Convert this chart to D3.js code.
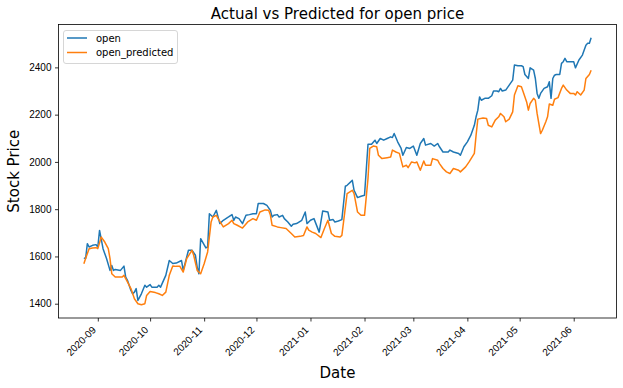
<!DOCTYPE html>
<html>
<head>
<meta charset="utf-8">
<script src="https://cdn.jsdelivr.net/npm/d3@7"></script>
<style>
  body { margin: 0; background: #fff; }
  svg { font-family: "DejaVu Sans", sans-serif; }
</style>
</head>
<body>
<svg id="chart"></svg>
<script>
// Actual vs predicted open price (line chart)
const seriesNames = ["open", "open_predicted"];
const colors = ["#1f77b4", "#ff7f0e"];
const yTicks = [1400, 1600, 1800, 2000, 2200, 2400];

const openDates = [
    "2020-08-24","2020-08-25","2020-08-26","2020-08-27","2020-08-29","2020-08-31",
    "2020-09-01","2020-09-02","2020-09-04","2020-09-06","2020-09-08","2020-09-09","2020-09-10","2020-09-11","2020-09-14","2020-09-16","2020-09-17","2020-09-18","2020-09-20","2020-09-21","2020-09-22","2020-09-23","2020-09-24","2020-09-26","2020-09-28","2020-09-29",
    "2020-10-01","2020-10-02","2020-10-05","2020-10-06","2020-10-07","2020-10-10","2020-10-12","2020-10-14","2020-10-16","2020-10-19","2020-10-20","2020-10-23","2020-10-25","2020-10-27","2020-10-28","2020-10-29","2020-10-30",
    "2020-11-02","2020-11-03","2020-11-04","2020-11-06","2020-11-08","2020-11-10","2020-11-12","2020-11-15","2020-11-17","2020-11-18","2020-11-19","2020-11-21","2020-11-23","2020-11-25","2020-11-27","2020-11-29",
    "2020-12-01","2020-12-02","2020-12-05","2020-12-07","2020-12-09","2020-12-10","2020-12-11","2020-12-13","2020-12-14","2020-12-16","2020-12-17","2020-12-19","2020-12-21","2020-12-22","2020-12-24","2020-12-27","2020-12-29","2020-12-30",
    "2021-01-01","2021-01-03","2021-01-06","2021-01-08","2021-01-11","2021-01-12","2021-01-14","2021-01-15","2021-01-17","2021-01-19","2021-01-21","2021-01-22","2021-01-25","2021-01-26","2021-01-28","2021-01-30",
    "2021-02-01","2021-02-03","2021-02-05","2021-02-07","2021-02-08","2021-02-10","2021-02-12","2021-02-14","2021-02-16","2021-02-17","2021-02-18","2021-02-20","2021-02-22","2021-02-23","2021-02-25","2021-02-27",
    "2021-03-01","2021-03-03","2021-03-05","2021-03-07","2021-03-08","2021-03-11","2021-03-13","2021-03-15","2021-03-16","2021-03-18","2021-03-21","2021-03-22","2021-03-24","2021-03-27","2021-03-28","2021-03-30",
    "2021-04-01","2021-04-03","2021-04-05","2021-04-06","2021-04-07","2021-04-08","2021-04-09","2021-04-11","2021-04-13","2021-04-15","2021-04-16","2021-04-18","2021-04-19","2021-04-20","2021-04-21","2021-04-23","2021-04-25","2021-04-27","2021-04-28","2021-04-30",
    "2021-05-02","2021-05-03","2021-05-04","2021-05-06","2021-05-07","2021-05-09","2021-05-10","2021-05-11","2021-05-12","2021-05-13","2021-05-15","2021-05-17","2021-05-18","2021-05-19","2021-05-20","2021-05-21","2021-05-22","2021-05-24","2021-05-25","2021-05-26","2021-05-27","2021-05-28","2021-05-31",
    "2021-06-01","2021-06-02","2021-06-04","2021-06-06","2021-06-08","2021-06-09","2021-06-10","2021-06-11"
];
const openValues = [
    1594,1591,1654,1640,1647,1650,
    1640,1710,1633,1591,1541,1562,1541,1545,1541,1559,1513,1499,1456,1442,1449,1464,1414,1442,1478,1470,
    1481,1470,1470,1478,1470,1520,1583,1570,1572,1583,1541,1626,1626,1605,1555,1527,1675,
    1636,1640,1781,1767,1795,1739,1753,1767,1777,1753,1767,1760,1739,1774,1777,1781,
    1781,1824,1824,1816,1795,1767,1774,1777,1767,1774,1760,1746,1728,1736,1739,1753,1788,1739,
    1753,1760,1703,1792,1788,1753,1756,1746,1750,1756,1897,1901,1922,1880,1849,1855,
    1859,2075,2075,2092,2078,2099,2092,2099,2106,2103,2120,2085,2057,2028,2061,2057,
    2067,2028,2078,2099,2071,2078,2067,2078,2064,2042,2042,2050,2042,2036,2028,2064,
    2085,2113,2155,2191,2219,2275,2261,2269,2269,2280,2300,2300,2297,2311,2300,2304,2325,2346,2410,2407,
    2407,2403,2370,2353,2398,2388,2353,2290,2269,2290,2311,2318,2339,2269,2353,2367,2370,2370,2417,2424,2438,2424,2424,
    2424,2398,2431,2452,2494,2502,2502,2525
];

const predDates = [
    "2020-08-24","2020-08-25","2020-08-27","2020-08-29","2020-08-31",
    "2020-09-01","2020-09-03","2020-09-05","2020-09-07","2020-09-08","2020-09-09","2020-09-11","2020-09-13","2020-09-15","2020-09-16","2020-09-18","2020-09-20","2020-09-22","2020-09-24","2020-09-26","2020-09-28","2020-09-29",
    "2020-10-01","2020-10-04","2020-10-06","2020-10-08","2020-10-10","2020-10-12","2020-10-14","2020-10-16","2020-10-18","2020-10-20","2020-10-22","2020-10-25","2020-10-26","2020-10-28","2020-10-30",
    "2020-11-01","2020-11-03","2020-11-05","2020-11-06","2020-11-08","2020-11-09","2020-11-12","2020-11-15","2020-11-17","2020-11-18","2020-11-20","2020-11-23","2020-11-26","2020-11-29",
    "2020-12-01","2020-12-03","2020-12-06","2020-12-08","2020-12-09","2020-12-10","2020-12-13","2020-12-15","2020-12-18","2020-12-21","2020-12-23","2020-12-26","2020-12-28","2020-12-30","2020-12-31",
    "2021-01-02","2021-01-04","2021-01-07","2021-01-09","2021-01-11","2021-01-13","2021-01-15","2021-01-18","2021-01-19","2021-01-22","2021-01-25","2021-01-26","2021-01-28","2021-01-30",
    "2021-02-01","2021-02-03","2021-02-04","2021-02-06","2021-02-08","2021-02-09","2021-02-11","2021-02-14","2021-02-16","2021-02-17","2021-02-19","2021-02-21","2021-02-23","2021-02-25","2021-02-26","2021-02-28",
    "2021-03-02","2021-03-03","2021-03-05","2021-03-07","2021-03-08","2021-03-11","2021-03-12","2021-03-15","2021-03-16","2021-03-18","2021-03-20","2021-03-22","2021-03-24","2021-03-27","2021-03-28","2021-03-31",
    "2021-04-02","2021-04-05","2021-04-06","2021-04-07","2021-04-10","2021-04-12","2021-04-13","2021-04-15","2021-04-17","2021-04-19","2021-04-20","2021-04-22","2021-04-23","2021-04-25","2021-04-27","2021-04-28","2021-04-30",
    "2021-05-02","2021-05-03","2021-05-05","2021-05-06","2021-05-07","2021-05-09","2021-05-10","2021-05-11","2021-05-13","2021-05-14","2021-05-16","2021-05-17","2021-05-18","2021-05-20","2021-05-21","2021-05-23","2021-05-25","2021-05-26","2021-05-28","2021-05-30",
    "2021-06-01","2021-06-02","2021-06-03","2021-06-05","2021-06-07","2021-06-08","2021-06-10","2021-06-11"
];
const predValues = [
    1569,1591,1633,1636,1637,
    1633,1682,1661,1633,1591,1527,1513,1513,1513,1520,1492,1464,1421,1400,1396,1400,1435,
    1452,1447,1442,1435,1449,1520,1560,1558,1559,1534,1591,1626,1605,1541,1527,
    1569,1619,1746,1767,1774,1760,1725,1739,1753,1739,1732,1720,1746,1760,
    1753,1788,1797,1795,1775,1732,1725,1722,1718,1697,1682,1685,1689,1725,1711,
    1703,1697,1680,1718,1753,1697,1685,1682,1689,1866,1880,1866,1788,1774,
    1774,1930,2057,2067,2064,2028,2014,2018,2021,2050,2042,2036,1979,1986,1976,2000,
    1996,2000,1965,2004,1986,1986,2014,2007,1993,1972,1958,1951,1972,1965,1958,1979,
    2000,2036,2113,2181,2186,2184,2155,2148,2177,2191,2205,2191,2170,2181,2212,2283,2322,
    2318,2297,2254,2219,2247,2269,2261,2205,2120,2134,2170,2191,2245,2240,2265,2272,2311,2325,2304,2290,
    2290,2283,2297,2283,2304,2353,2370,2388
];

const width = 623;
const height = 388;
const margin = { top: 24.5, right: 6.5, bottom: 70, left: 58.5 };

function drawChart() {
    const parse = d3.timeParse("%Y-%m-%d");
    const series = [
        openDates.map((d, i) => ({ date: parse(d), value: openValues[i] })),
        predDates.map((d, i) => ({ date: parse(d), value: predValues[i] }))
    ];
    const all = series.flat();

    const svg = d3.select("#chart")
        .attr("width", width)
        .attr("height", height);

    // matplotlib-style 5% margins
    const [x0, x1] = d3.extent(all, d => d.date);
    const xPad = (x1 - x0) * 0.05;
    const [v0, v1] = d3.extent(all, d => d.value);
    const yPad = (v1 - v0) * 0.05;

    const x = d3.scaleTime()
        .domain([new Date(+x0 - xPad), new Date(+x1 + xPad)])
        .range([margin.left, width - margin.right]);
    const y = d3.scaleLinear()
        .domain([v0 - yPad, v1 + yPad])
        .range([height - margin.bottom, margin.top]);

    const line = d3.line()
        .x(d => x(d.date))
        .y(d => y(d.value));

    svg.selectAll("path.series")
        .data(series)
        .enter()
        .append("path")
        .attr("class", "series")
        .attr("fill", "none")
        .attr("stroke", (d, i) => colors[i])
        .attr("stroke-width", 1.5)
        .attr("stroke-linejoin", "round")
        .attr("d", line);

    // axes
    const xAxis = svg.append("g")
        .attr("transform", `translate(0,${height - margin.bottom})`)
        .call(d3.axisBottom(x)
            .ticks(d3.timeMonth.every(1))
            .tickFormat(d3.timeFormat("%Y-%m"))
            .tickSizeInner(3.5).tickSizeOuter(0).tickPadding(3));
    xAxis.select(".domain").remove();
    // rotated labels, right end tucked under the tick
    xAxis.selectAll("text")
        .attr("font-size", 10)
        .attr("fill", "#000")
        .style("text-anchor", "end")
        .attr("x", 0)
        .attr("y", 0)
        .attr("dy", 0)
        .attr("transform", "translate(-1.7,12.6) rotate(-45)");

    const yAxis = svg.append("g")
        .attr("transform", `translate(${margin.left},0)`)
        .call(d3.axisLeft(y)
            .tickValues(yTicks)
            .tickFormat(d3.format("d"))
            .tickSizeInner(3.5).tickSizeOuter(0).tickPadding(3.5));
    yAxis.select(".domain").remove();
    yAxis.selectAll("text").attr("font-size", 10).attr("fill", "#000");

    svg.selectAll(".tick line").attr("stroke", "#000").attr("stroke-width", 0.8);

    // frame
    svg.append("rect")
        .attr("x", margin.left)
        .attr("y", margin.top)
        .attr("width", width - margin.left - margin.right)
        .attr("height", height - margin.top - margin.bottom)
        .attr("fill", "none")
        .attr("stroke", "#000")
        .attr("stroke-width", 0.8);

    // titles
    const cx = (margin.left + width - margin.right) / 2;
    svg.append("text")
        .attr("x", cx)
        .attr("y", 19)
        .attr("text-anchor", "middle")
        .attr("font-size", 15)
        .text("Actual vs Predicted for open price");
    svg.append("text")
        .attr("x", cx)
        .attr("y", 378)
        .attr("text-anchor", "middle")
        .attr("font-size", 15)
        .text("Date");
    svg.append("text")
        .attr("transform", `translate(18.5,${(margin.top + height - margin.bottom) / 2}) rotate(-90)`)
        .attr("text-anchor", "middle")
        .attr("font-size", 15)
        .text("Stock Price");

    // legend
    const legend = svg.append("g").attr("transform", "translate(63.5,30.5)");
    legend.append("rect")
        .attr("width", 114)
        .attr("height", 33)
        .attr("rx", 2.5)
        .attr("fill", "#fff")
        .attr("fill-opacity", 0.8)
        .attr("stroke", "#cccccc")
        .attr("stroke-width", 0.8);
    const items = legend.selectAll("g.item")
        .data(seriesNames)
        .enter()
        .append("g")
        .attr("class", "item")
        .attr("transform", (d, i) => `translate(0,${7.5 + i * 14.5})`);
    items.append("line")
        .attr("x1", 3.5).attr("x2", 23.5)
        .attr("stroke", (d, i) => colors[i])
        .attr("stroke-width", 1.5);
    items.append("text")
        .attr("x", 32.5)
        .attr("dy", "0.35em")
        .attr("font-size", 10)
        .text(d => d);
}

drawChart();
</script>
</body>
</html>
